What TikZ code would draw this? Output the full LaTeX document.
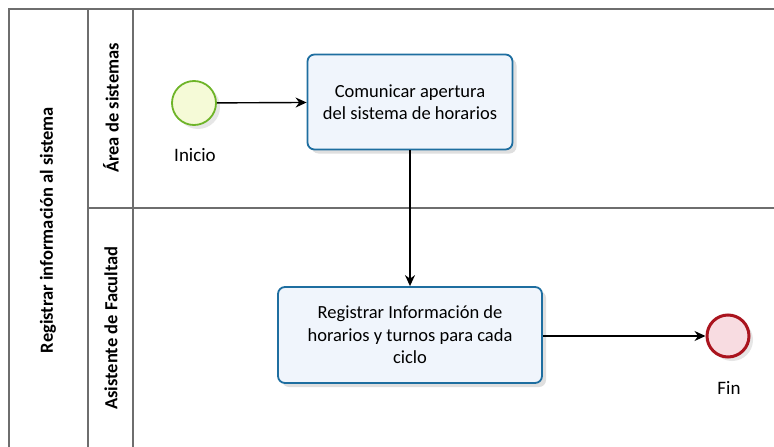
\documentclass[tikz,border=0pt]{standalone}
\usepackage{fontspec}
\setmainfont{Carlito}
\usetikzlibrary{shadows,arrows.meta}

\definecolor{taskline}{RGB}{30,110,160}
\definecolor{taskfill}{RGB}{240,245,252}
\definecolor{startline}{RGB}{110,180,40}
\definecolor{startfill}{RGB}{245,250,215}
\definecolor{endline}{RGB}{170,20,30}
\definecolor{endfill}{RGB}{248,220,225}
\definecolor{poolline}{RGB}{110,110,110}

\tikzset{
  task/.style={draw=taskline,line width=1.8pt,fill=taskfill,rounded corners=7pt,
    align=center,font=\fontsize{18.5}{22.5}\selectfont,
    drop shadow={shadow xshift=4pt,shadow yshift=-4pt,opacity=0.25}},
  startev/.style={circle,draw=startline,line width=1.8pt,fill=startfill,minimum size=44pt,inner sep=0pt,
    drop shadow={shadow xshift=4pt,shadow yshift=-4pt,opacity=0.2}},
  endev/.style={circle,draw=endline,line width=3pt,fill=endfill,minimum size=42pt,inner sep=0pt,
    drop shadow={shadow xshift=4pt,shadow yshift=-4pt,opacity=0.2}},
  flow/.style={-{Stealth[length=11pt,width=10pt]},line width=1.4pt},
  evlabel/.style={font=\fontsize{19}{22}\selectfont},
  lanelabel/.style={rotate=90,font=\bfseries\fontsize{18.5}{22}\selectfont}
}

\begin{document}
\begin{tikzpicture}[x=1pt,y=-1pt]
  \useasboundingbox (0,0) rectangle (774,447);
  % pool and lanes
  \draw[poolline,line width=1.6pt] (9,460) -- (9,9) -- (780,9);
  \draw[poolline,line width=1.6pt] (88,9) -- (88,460);
  \draw[poolline,line width=1.6pt] (133,9) -- (133,460);
  \draw[poolline,line width=1.6pt] (88,208) -- (780,208);
  \node[lanelabel] (pool) at (48,230) {Registrar información al sistema};
  \node[lanelabel] (lane1) at (111,108) {Área de sistemas};
  \node[lanelabel] (lane2) at (111,328) {Asistente de Facultad};
  % events and tasks
  \node[startev] (inicio) at (194,103) {};
  \node[evlabel] (inicioTxt) at (195,155) {Inicio};
  \node[task,minimum width=205pt,minimum height=95pt] (comunicar) at (410,102)
    {Comunicar apertura\\del sistema de horarios};
  \node[task,minimum width=264pt,minimum height=96pt] (registrar) at (410,335)
    {Registrar Información de\\horarios y turnos para cada\\ciclo};
  \node[endev] (fin) at (728,336) {};
  \node[evlabel] (finTxt) at (729,388) {Fin};
  % flows
  \draw[flow] (inicio) -- (comunicar);
  \draw[flow] (comunicar) -- (registrar);
  \draw[flow] (registrar.east |- fin) -- (fin);
\end{tikzpicture}
\end{document}
